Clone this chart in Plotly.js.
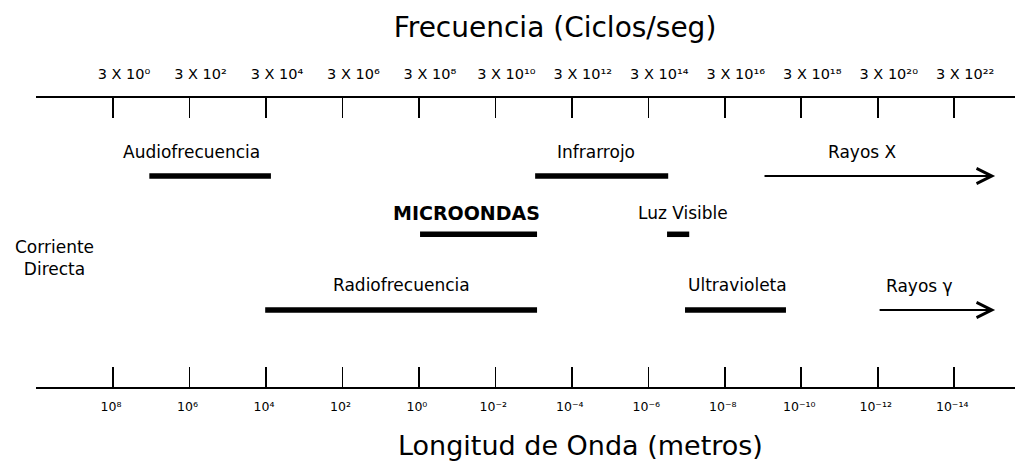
<!DOCTYPE html>
<html>
<head>
<meta charset="utf-8">
<script src="https://cdn.plot.ly/plotly-3.0.1.min.js"></script>
<style>
  html, body { margin: 0; padding: 0; background: #fff; }
  #chart { width: 1026px; height: 466px; }
</style>
</head>
<body>
<div id="chart"></div>
<script>
// ---- data ----
// tick positions: exponent n of the frequency 3 x 10^n (cycles/s)
const freqExp = [0, 2, 4, 6, 8, 10, 12, 14, 16, 18, 20, 22];
const freqLabels = ["3 X 10⁰", "3 X 10²", "3 X 10⁴", "3 X 10⁶", "3 X 10⁸", "3 X 10¹⁰",
  "3 X 10¹²", "3 X 10¹⁴", "3 X 10¹⁶", "3 X 10¹⁸", "3 X 10²⁰", "3 X 10²²"];
const waveLabels = ["10⁸", "10⁶", "10⁴", "10²", "10⁰", "10⁻²", "10⁻⁴", "10⁻⁶",
  "10⁻⁸", "10⁻¹⁰", "10⁻¹²", "10⁻¹⁴"];

// spectrum bands (exponent range) and the diagram row they sit on
const bandas = ["Audiofrecuencia", "Infrarrojo", "MICROONDAS", "Luz Visible", "Radiofrecuencia", "Ultravioleta"];
const bandaInicio = [0.95, 11.04, 8.03, 14.49, 3.98, 14.96];
const bandaFin = [4.13, 14.52, 11.09, 15.07, 11.09, 17.60];
const bandaFila = [1, 1, 1.87, 1.87, 3, 3];

// open-ended bands drawn as arrows
const flechas = ["Rayos X", "Rayos γ"];
const flechaInicio = [17.0, 20.01];
const flechaFin = [23.07, 23.07];
const flechaFila = [1, 3];

// ---- styles ----
const FONT = "DejaVu Sans, Liberation Sans, Arial, sans-serif";
const bandaXShift = [-19, -6, -12, 5, 0, 2];
const bandaYShift = [24, 24, 21, 21, 25, 25];
const bandaFont = [17, 17, 19, 17, 17, 17];
const bandaBold = [false, false, true, false, false, false];
const flechaXShift = [-17, -17];

const traces = bandas.map((b, i) => ({
  type: "scatter", mode: "lines",
  x: [bandaInicio[i], bandaFin[i]],
  y: [bandaFila[i], bandaFila[i]],
  line: { color: "#000", width: 5.5 },
  hoverinfo: "skip", showlegend: false
}));
// dummy trace to activate the top axis
traces.push({ type: "scatter", mode: "lines", x: [freqExp[0], freqExp[freqExp.length - 1]], y: [null, null],
  xaxis: "x2", yaxis: "y", hoverinfo: "skip", showlegend: false });

const annotations = [];
bandas.forEach((b, i) => {
  annotations.push({
    x: (bandaInicio[i] + bandaFin[i]) / 2, y: bandaFila[i], xref: "x", yref: "y",
    text: bandaBold[i] ? "<b>" + b + "</b>" : b, showarrow: false,
    xshift: bandaXShift[i], yshift: bandaYShift[i],
    font: { family: FONT, size: bandaFont[i], color: "#000" }
  });
});
flechas.forEach((f, i) => {
  annotations.push({
    x: flechaFin[i], y: flechaFila[i], xref: "x", yref: "y",
    ax: flechaInicio[i], ay: flechaFila[i], axref: "x", ayref: "y",
    text: "", showarrow: true, arrowhead: 5, arrowsize: 1.5, arrowwidth: 2, arrowcolor: "#000",
    standoff: 0, startstandoff: 0
  });
  annotations.push({
    x: (flechaInicio[i] + flechaFin[i]) / 2, y: flechaFila[i], xref: "x", yref: "y",
    text: f, showarrow: false, xshift: flechaXShift[i], yshift: 24,
    font: { family: FONT, size: 17, color: "#000" }
  });
});
annotations.push({
  x: 0.0194, y: 2.22, xref: "paper", yref: "y", xanchor: "center", yanchor: "middle",
  text: "Corriente<br>Directa", showarrow: false, align: "center",
  font: { family: FONT, size: 17, color: "#000" }
});
annotations.push({
  x: 0.5557, y: -0.2007, xref: "paper", yref: "paper", xanchor: "center", yanchor: "middle",
  text: "Longitud de Onda (metros)", showarrow: false,
  font: { family: FONT, size: 27, color: "#000" }
});

const axisCommon = {
  showline: true, linecolor: "#000", linewidth: 1.6,
  ticks: "inside", ticklen: 20, tickwidth: 1.6, tickcolor: "#000",
  tickmode: "array", tickvals: freqExp,
  showgrid: false, zeroline: false, fixedrange: true
};

const layout = {
  width: 1026, height: 466,
  margin: { l: 36, r: 11, t: 98, b: 79 },
  paper_bgcolor: "#fff", plot_bgcolor: "#fff",
  showlegend: false,
  title: {
    text: "Frecuencia (Ciclos/seg)", xref: "container", yref: "container",
    x: 555 / 1026, xanchor: "center", y: 1 - 27 / 466, yanchor: "middle",
    font: { family: FONT, size: 28, color: "#000" }
  },
  xaxis: Object.assign({}, axisCommon, {
    range: [-2.014, 23.59], side: "bottom", anchor: "y",
    ticktext: waveLabels, ticklabelstandoff: 7, ticklabelshift: -2,
    tickfont: { family: FONT, size: 12.5, color: "#000" }
  }),
  xaxis2: Object.assign({}, axisCommon, {
    range: [-2.014, 23.59], side: "top", overlaying: "x", anchor: "y", matches: "x",
    ticktext: freqLabels, ticklabelstandoff: 12, ticklabelshift: 11,
    tickfont: { family: FONT, size: 14.5, color: "#000" }
  }),
  yaxis: {
    range: [4.149, -0.164], visible: false, showgrid: false, zeroline: false, fixedrange: true
  },
  annotations: annotations
};

Plotly.newPlot("chart", traces, layout, { displayModeBar: false, staticPlot: true });
</script>
</body>
</html>
